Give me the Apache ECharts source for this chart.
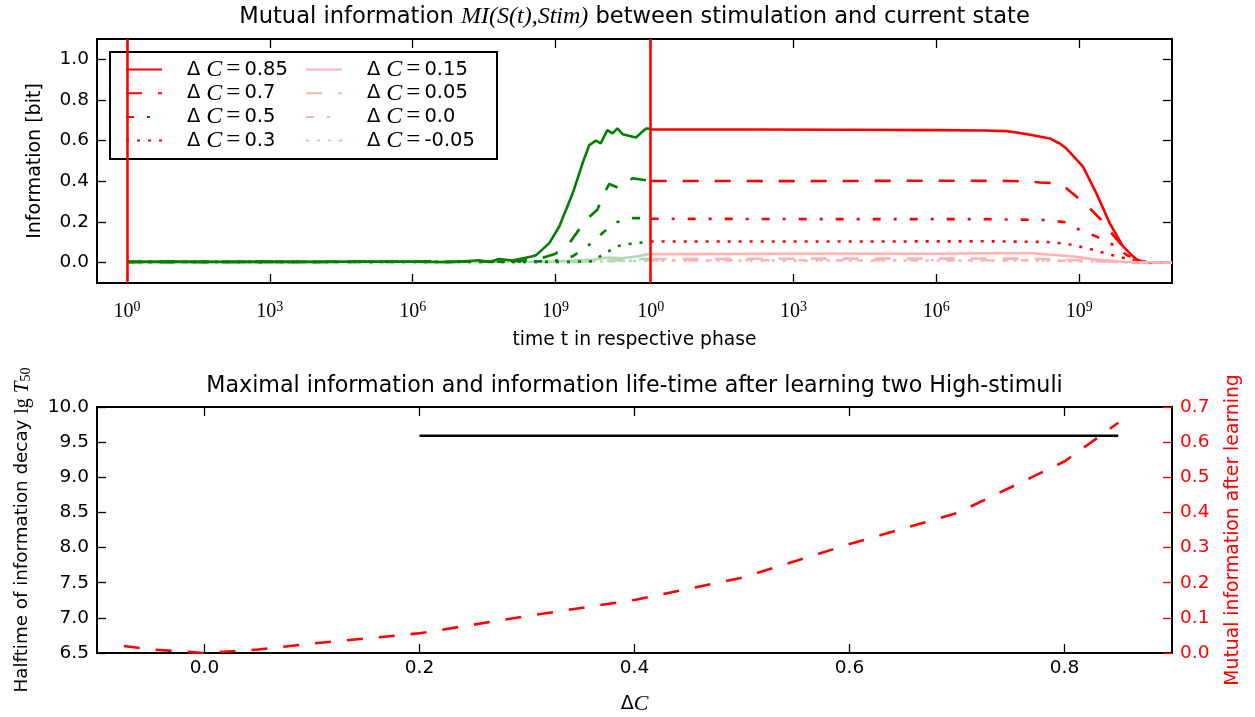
<!DOCTYPE html>
<html lang="en">
<head>
  <meta charset="UTF-8">
  <title>Mutual information</title>
  <script src="https://cdn.jsdelivr.net/npm/echarts@6.0.0/dist/echarts.min.js"></script>
  <style>
    html, body { margin: 0; padding: 0; background: #fff; }
    #chart { width: 1255px; height: 717px; }
  </style>
</head>
<body>
  <div id="chart"></div>
  <script>
    // second phase starts where the first one ends (t = 1e11)
    const PHASE2_START = 11;

    const dcNames = ['0.85', '0.7', '0.5', '0.3', '0.15', '0.05', '0.0', '-0.05'];

    // learning phase: [lg t, MI]
    const learn085 = [[0, 0.004], [1, 0.005], [2, 0.004], [3, 0.005], [4, 0.004], [5, 0.006], [6, 0.005], [6.8, 0.002], [7.4, 0.012], [7.6, 0.003], [7.82, 0.018], [8.1, 0.011], [8.5, 0.03], [8.59, 0.036], [8.87, 0.096], [9.08, 0.178], [9.36, 0.34], [9.57, 0.49], [9.71, 0.578], [9.85, 0.6], [9.95, 0.587], [10.09, 0.652], [10.2, 0.636], [10.3, 0.66], [10.41, 0.632], [10.69, 0.616], [10.9, 0.66], [11, 0.658]];
    const learn07 = [[0, 0.004], [4, 0.004], [8, 0.006], [8.4, 0.012], [8.72, 0.023], [9.0, 0.044], [9.29, 0.096], [9.64, 0.21], [9.88, 0.26], [10.02, 0.34], [10.13, 0.387], [10.34, 0.366], [10.62, 0.415], [11, 0.402]];
    const learn05 = [[0, 0.004], [5, 0.004], [8.5, 0.005], [9.0, 0.01], [9.36, 0.031], [9.71, 0.088], [9.99, 0.146], [10.23, 0.195], [10.62, 0.219], [11, 0.219]];
    const learn03 = [[0, 0.004], [5, 0.004], [9.3, 0.004], [9.78, 0.007], [10.06, 0.05], [10.34, 0.083], [10.58, 0.093], [11, 0.104]];
    const learn015 = [[0, 0.004], [5, 0.004], [9, 0.005], [9.8, 0.015], [10.1, 0.025], [10.4, 0.022], [10.7, 0.03], [11, 0.044]];
    const learn005 = [[0, 0.004], [5, 0.004], [9.5, 0.005], [10.5, 0.012], [11, 0.02]];
    const learn00 = [[0, 0.004], [9.5, 0.004], [11, 0.012]];
    const learnM005 = [[0, 0.004], [9.5, 0.004], [11, 0.01]];

    // forgetting phase: [lg t, MI]
    const forget085 = [[0, 0.655], [2, 0.655], [4, 0.654], [6, 0.652], [7, 0.65], [7.47, 0.647], [7.68, 0.64], [8.03, 0.627], [8.38, 0.611], [8.59, 0.586], [8.73, 0.562], [9.08, 0.472], [9.36, 0.342], [9.64, 0.195], [9.92, 0.08], [10.2, 0.015], [10.41, 0.0], [10.95, 0.0]];
    const forget07 = [[0, 0.402], [3, 0.401], [6, 0.403], [7.5, 0.402], [8.0, 0.398], [8.17, 0.394], [8.45, 0.392], [8.73, 0.366], [8.94, 0.325], [9.22, 0.268], [9.46, 0.211], [9.71, 0.137], [9.92, 0.08], [10.17, 0.023], [10.3, 0.003], [10.95, 0.0]];
    const forget05 = [[0, 0.216], [4, 0.214], [7, 0.214], [8.3, 0.21], [8.73, 0.198], [9.0, 0.162], [9.36, 0.129], [9.71, 0.088], [9.99, 0.039], [10.27, 0.005], [10.95, 0.0]];
    const forget03 = [[0, 0.104], [4, 0.104], [7, 0.105], [8.3, 0.102], [8.73, 0.093], [8.94, 0.083], [9.15, 0.072], [9.36, 0.059], [9.6, 0.042], [9.81, 0.031], [10.06, 0.015], [10.27, 0.004], [10.95, 0.0]];
    const forget015 = [[0, 0.042], [2, 0.043], [4, 0.045], [6, 0.044], [7.5, 0.047], [8.0, 0.046], [8.9, 0.03], [9.36, 0.015], [10, 0.003], [10.95, 0.0]];
    const forget005 = [[0, 0.018], [4, 0.02], [8, 0.02], [9, 0.012], [10, 0.002], [10.95, 0]];
    const forget00 = [[0, 0.012], [8, 0.012], [9.5, 0.006], [10.3, 0], [10.95, 0]];
    const forgetM005 = [[0, 0.01], [8, 0.01], [9.5, 0.005], [10.3, 0], [10.95, 0]];

    const learnData = [learn085, learn07, learn05, learn03, learn015, learn005, learn00, learnM005];
    const forgetData = [forget085, forget07, forget05, forget03, forget015, forget005, forget00, forgetM005];

    // lower panel
    const deltaC = [-0.075, -0.05, 0.0, 0.05, 0.1, 0.2, 0.3, 0.4, 0.5, 0.6, 0.7, 0.8, 0.85];
    const miAfterLearning = [0.02, 0.01, 0.0, 0.01, 0.027, 0.056, 0.105, 0.151, 0.214, 0.31, 0.398, 0.545, 0.655];
    const deltaCHalf = [0.2, 0.3, 0.4, 0.5, 0.6, 0.7, 0.8, 0.85];
    const halftimeLg = [9.59, 9.59, 9.59, 9.59, 9.59, 9.59, 9.59, 9.59];

    const timeTicks = [0, 3, 6, 9, 11, 14, 17, 20];
    const infoTicks = [0, 0.2, 0.4, 0.6, 0.8, 1.0];
    const dcTicks = [0, 0.2, 0.4, 0.6, 0.8];

    const dashes = ['solid', [16, 16], [8, 13, 3, 13], [3, 8]];
    const SANS = 'DejaVu Sans, Verdana, sans-serif';
    const SERIF = 'Liberation Serif, Times New Roman, serif';

    const tickLabel = { color: '#000', fontFamily: SANS, fontSize: 18.5 };
    const powRich = {
      b: { fontFamily: SERIF, fontSize: 20, lineHeight: 24, color: '#000' },
      s: { fontFamily: SERIF, fontSize: 14, lineHeight: 14, verticalAlign: 'top', color: '#000' }
    };

    const series = [];
    // phase 2 (red) first so the legend picks up the red style
    dcNames.forEach((name, i) => {
      series.push({
        name: name, type: 'line', xAxisIndex: 0, yAxisIndex: 0,
        symbol: 'none', silent: true,
        data: forgetData[i].map(p => [p[0] + PHASE2_START, p[1]]),
        lineStyle: { color: i < 4 ? '#ff0000' : '#ffb3b3', width: 2.6, type: dashes[i % 4] },
        itemStyle: { color: i < 4 ? '#ff0000' : '#ffb3b3' }
      });
    });
    // learning phase, pale ones underneath
    for (let i = dcNames.length - 1; i >= 0; i--) {
      series.push({
        name: dcNames[i], type: 'line', xAxisIndex: 0, yAxisIndex: 0,
        symbol: 'none', silent: true,
        data: learnData[i],
        lineStyle: { color: i < 4 ? '#008000' : '#b3d9b3', width: 2.6, type: dashes[i % 4] },
        itemStyle: { color: i < 4 ? '#008000' : '#b3d9b3' }
      });
    }
    // phase borders
    series[0].markLine = {
      silent: true, symbol: 'none', label: { show: false },
      lineStyle: { color: '#ff0000', width: 2.6, type: 'solid' },
      data: [{ xAxis: 0 }, { xAxis: PHASE2_START }]
    };

    series.push({
      name: 'halftime', type: 'line', xAxisIndex: 2, yAxisIndex: 2,
      symbol: 'none', silent: true,
      data: deltaCHalf.map((x, i) => [x, halftimeLg[i]]),
      lineStyle: { color: '#000', width: 2.6 }
    });
    series.push({
      name: 'mi', type: 'line', xAxisIndex: 2, yAxisIndex: 3,
      symbol: 'none', silent: true,
      data: deltaC.map((x, i) => [x, miAfterLearning[i]]),
      lineStyle: { color: '#ff0000', width: 2.6, type: [16, 16] }
    });

    const legendRich = {
      d: { fontFamily: SANS, fontSize: 19.5, lineHeight: 20, padding: [0, 6, 0, 20], color: '#000' },
      c: { fontFamily: SERIF, fontStyle: 'italic', fontSize: 24, lineHeight: 20, color: '#000' },
      e: { fontFamily: SERIF, fontSize: 25, lineHeight: 20, padding: [0, 4, 0, 4], color: '#000' },
      v: { fontFamily: SANS, fontSize: 19.5, lineHeight: 20, color: '#000' }
    };
    const legendBase = {
      orient: 'vertical', top: 52, itemWidth: 36, itemHeight: 14, itemGap: -1.3,
      selectedMode: false,
      itemStyle: { opacity: 0 },
      formatter: n => '{d|Δ}{c|C}{e|=}{v|' + n + '}',
      textStyle: { rich: legendRich }
    };

    const thinTick = { inside: true, length: 9, lineStyle: { color: '#000', width: 1.3 } };

    // empty leading token nudges the centred titles over the plot centre
    const nudge = { p: { width: 14 } };

    const option = {
      animation: false,
      backgroundColor: '#fff',
      title: [{
        text: '{p|}{a|Mutual information }{m|MI(S(t),Stim)}{a| between stimulation and current state}',
        left: 'center', top: 0,
        textStyle: {
          fontWeight: 'normal',
          rich: Object.assign({
            a: { fontFamily: SANS, fontSize: 22.6, fontWeight: 'normal', color: '#000' },
            m: { fontFamily: SERIF, fontStyle: 'italic', fontWeight: 'normal', fontSize: 24, color: '#000' }
          }, nudge)
        }
      }, {
        text: '{p|}{a|Maximal information and information life-time after learning two High-stimuli}',
        left: 'center', top: 370,
        textStyle: {
          fontWeight: 'normal',
          rich: Object.assign({
            a: { fontFamily: SANS, fontSize: 22.2, fontWeight: 'normal', color: '#000' }
          }, nudge)
        }
      }],
      legend: [
        Object.assign({ left: 120, data: dcNames.slice(0, 4) }, legendBase),
        Object.assign({ left: 300, data: dcNames.slice(4) }, legendBase)
      ],
      graphic: [{
        type: 'rect', left: 109, top: 51, z: 3,
        shape: { width: 387, height: 107 },
        style: { fill: '#fff', stroke: '#000', lineWidth: 2 }
      }],
      grid: [
        { left: 97, right: 83, top: 39, height: 244, show: true, borderColor: '#000', borderWidth: 2, backgroundColor: 'transparent' },
        { left: 97, right: 83, top: 407, height: 246, show: true, borderColor: '#000', borderWidth: 2, backgroundColor: 'transparent' }
      ],
      xAxis: [{
        gridIndex: 0, type: 'value', min: -0.63, max: 21.95,
        axisLine: { show: false, onZero: false },
        axisTick: Object.assign({ customValues: timeTicks }, thinTick),
        splitLine: { show: false },
        axisLabel: {
          customValues: timeTicks, margin: 17,
          formatter: v => '{b|10}{s|' + (v >= PHASE2_START ? v - PHASE2_START : v) + '}',
          rich: powRich
        },
        name: 'time t in respective phase', nameLocation: 'middle', nameGap: 48,
        nameTextStyle: { fontFamily: SANS, fontSize: 18.7, color: '#000' }
      }, {
        gridIndex: 0, type: 'value', position: 'top', min: -0.63, max: 21.95,
        axisLine: { show: false, onZero: false },
        axisTick: Object.assign({ customValues: timeTicks }, thinTick),
        axisLabel: { show: false }, splitLine: { show: false }
      }, {
        gridIndex: 1, type: 'value', min: -0.1, max: 0.9,
        axisLine: { show: false, onZero: false },
        axisTick: Object.assign({ customValues: dcTicks }, thinTick),
        splitLine: { show: false },
        axisLabel: Object.assign({ customValues: dcTicks, margin: 6, formatter: v => v.toFixed(1) }, tickLabel),
        name: '{d|Δ}{c|C}', nameLocation: 'middle', nameGap: 40,
        nameTextStyle: {
          rich: {
            d: { fontFamily: SANS, fontSize: 19, color: '#000' },
            c: { fontFamily: SERIF, fontStyle: 'italic', fontSize: 22, color: '#000' }
          }
        }
      }, {
        gridIndex: 1, type: 'value', position: 'top', min: -0.1, max: 0.9,
        axisLine: { show: false, onZero: false },
        axisTick: Object.assign({ customValues: dcTicks }, thinTick),
        axisLabel: { show: false }, splitLine: { show: false }
      }],
      yAxis: [{
        gridIndex: 0, type: 'value', min: -0.1, max: 1.1,
        axisLine: { show: false, onZero: false },
        axisTick: Object.assign({ customValues: infoTicks }, thinTick),
        splitLine: { show: false },
        axisLabel: Object.assign({ customValues: infoTicks, margin: 8, formatter: v => v.toFixed(1) }, tickLabel),
        name: 'Information [bit]', nameLocation: 'middle', nameGap: 52, nameRotate: 90,
        nameTextStyle: { fontFamily: SANS, fontSize: 19, color: '#000' }
      }, {
        gridIndex: 0, type: 'value', position: 'right', min: -0.1, max: 1.1,
        axisLine: { show: false, onZero: false },
        axisTick: Object.assign({ customValues: infoTicks }, thinTick),
        axisLabel: { show: false }, splitLine: { show: false }
      }, {
        gridIndex: 1, type: 'value', min: 6.5, max: 10, interval: 0.5,
        axisLine: { show: false, onZero: false },
        axisTick: thinTick,
        splitLine: { show: false },
        axisLabel: Object.assign({ margin: 8, formatter: v => v.toFixed(1) }, tickLabel),
        name: '{a|Halftime of information decay }{m|lg }{i|T}{s|50}', nameLocation: 'middle', nameGap: 64, nameRotate: 90,
        nameTextStyle: {
          rich: {
            a: { fontFamily: SANS, fontSize: 18.3, color: '#000' },
            m: { fontFamily: SERIF, fontSize: 20, color: '#000' },
            i: { fontFamily: SERIF, fontStyle: 'italic', fontSize: 21, color: '#000' },
            s: { fontFamily: SERIF, fontSize: 14, verticalAlign: 'bottom', color: '#000' }
          }
        }
      }, {
        gridIndex: 1, type: 'value', position: 'right', min: 0, max: 0.7, interval: 0.1,
        axisLine: { show: false, onZero: false },
        axisTick: { inside: true, length: 9, lineStyle: { color: '#ff0000', width: 1.3 } },
        splitLine: { show: false },
        axisLabel: { margin: 8, formatter: v => v.toFixed(1), color: '#ff0000', fontFamily: SANS, fontSize: 18.5 },
        name: 'Mutual information after learning', nameLocation: 'middle', nameGap: 52, nameRotate: 90,
        nameTextStyle: { fontFamily: SANS, fontSize: 18.8, color: '#ff0000' }
      }],
      series: series
    };

    const chart = echarts.init(document.getElementById('chart'));
    chart.setOption(option);
  </script>
</body>
</html>
